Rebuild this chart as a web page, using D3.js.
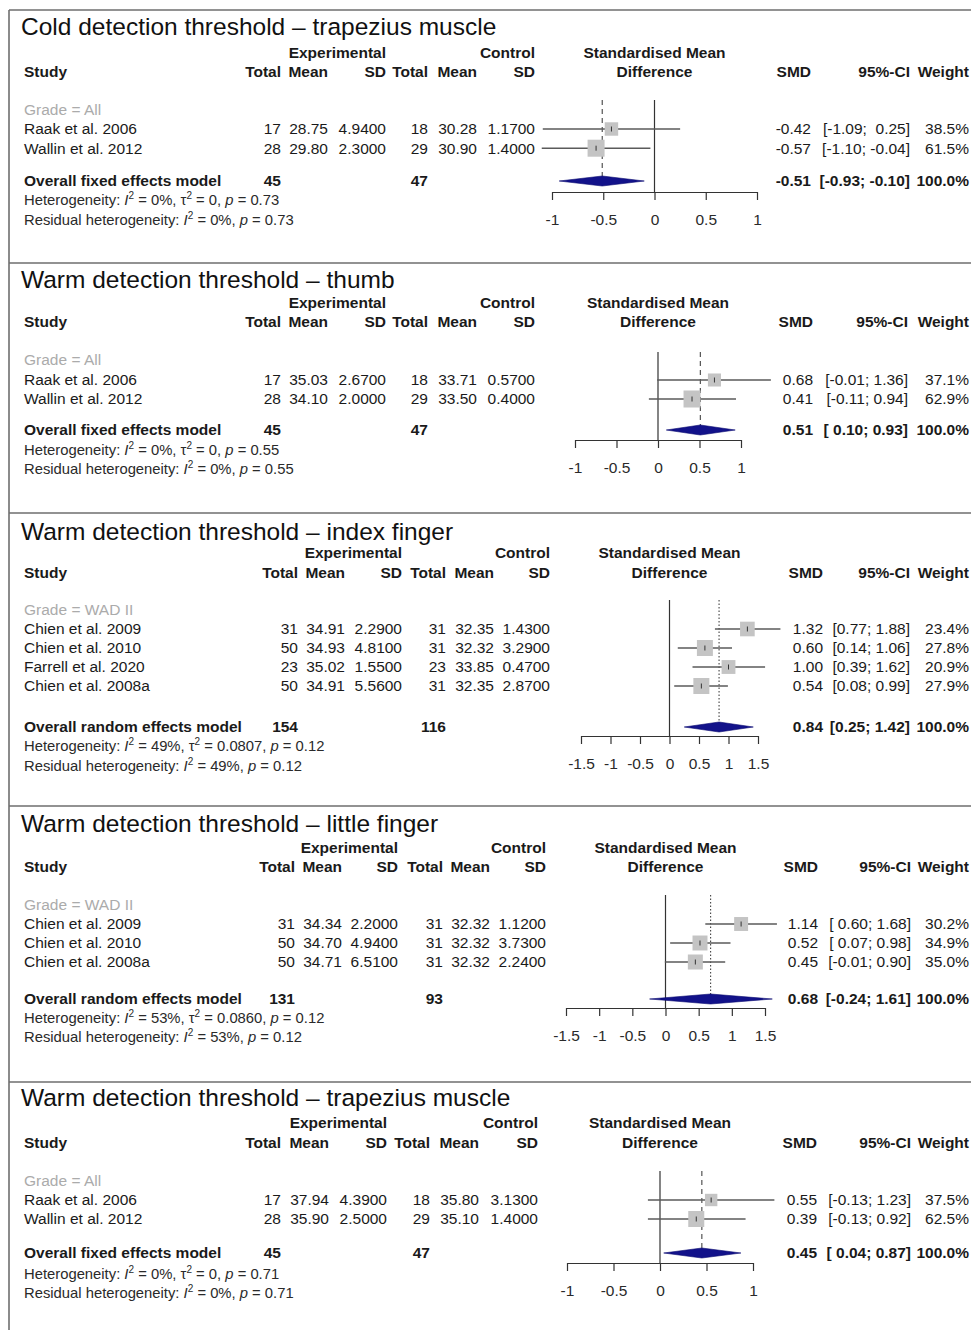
<!DOCTYPE html>
<html>
<head>
<meta charset="utf-8">
<script src="https://cdn.jsdelivr.net/npm/d3@7"></script>
<style>
body { margin: 0; background: #fff; }
svg text { font-family: "Liberation Sans", Arial, sans-serif; white-space: pre; }
</style>
</head>
<body>
<svg id="chart"></svg>
<script>
// ---- data ----
const titles = [
    "Cold detection threshold \u2013 trapezius muscle",
    "Warm detection threshold \u2013 thumb",
    "Warm detection threshold \u2013 index finger",
    "Warm detection threshold \u2013 little finger",
    "Warm detection threshold \u2013 trapezius muscle"
];
const grades = ["Grade = All", "Grade = All", "Grade = WAD II", "Grade = WAD II", "Grade = All"];
const studies = [
    ["Raak et al. 2006", "Wallin et al. 2012"],
    ["Raak et al. 2006", "Wallin et al. 2012"],
    ["Chien et al. 2009", "Chien et al. 2010", "Farrell et al. 2020", "Chien et al. 2008a"],
    ["Chien et al. 2009", "Chien et al. 2010", "Chien et al. 2008a"],
    ["Raak et al. 2006", "Wallin et al. 2012"]
];
const expTotal = [[17, 28], [17, 28], [31, 50, 23, 50], [31, 50, 50], [17, 28]];
const expMean = [[28.75, 29.80], [35.03, 34.10], [34.91, 34.93, 35.02, 34.91], [34.34, 34.70, 34.71], [37.94, 35.90]];
const expSD = [[4.94, 2.30], [2.67, 2.00], [2.29, 4.81, 1.55, 5.56], [2.20, 4.94, 6.51], [4.39, 2.50]];
const ctlTotal = [[18, 29], [18, 29], [31, 31, 23, 31], [31, 31, 31], [18, 29]];
const ctlMean = [[30.28, 30.90], [33.71, 33.50], [32.35, 32.32, 33.85, 32.35], [32.32, 32.32, 32.32], [35.80, 35.10]];
const ctlSD = [[1.17, 1.40], [0.57, 0.40], [1.43, 3.29, 0.47, 2.87], [1.12, 3.73, 2.24], [3.13, 1.40]];
const smd = [[-0.42, -0.57], [0.68, 0.41], [1.32, 0.60, 1.00, 0.54], [1.14, 0.52, 0.45], [0.55, 0.39]];
const ciLower = [[-1.09, -1.10], [-0.01, -0.11], [0.77, 0.14, 0.39, 0.08], [0.60, 0.07, -0.01], [-0.13, -0.13]];
const ciUpper = [[0.25, -0.04], [1.36, 0.94], [1.88, 1.06, 1.62, 0.99], [1.68, 0.98, 0.90], [1.23, 0.92]];
const weights = [[38.5, 61.5], [37.1, 62.9], [23.4, 27.8, 20.9, 27.9], [30.2, 34.9, 35.0], [37.5, 62.5]];
const pooledSMD = [-0.51, 0.51, 0.84, 0.68, 0.45];
const pooledLower = [-0.93, 0.10, 0.25, -0.24, 0.04];
const pooledUpper = [-0.10, 0.93, 1.42, 1.61, 0.87];
const models = ["fixed", "fixed", "random", "random", "fixed"];
const hetI2 = ["0%", "0%", "49%", "53%", "0%"];
const hetTau2 = ["0", "0", "0.0807", "0.0860", "0"];
const hetP = ["0.73", "0.55", "0.12", "0.12", "0.71"];
const axisTicks = [
    [-1, -0.5, 0, 0.5, 1],
    [-1, -0.5, 0, 0.5, 1],
    [-1.5, -1, -0.5, 0, 0.5, 1, 1.5],
    [-1.5, -1, -0.5, 0, 0.5, 1, 1.5],
    [-1, -0.5, 0, 0.5, 1]
];

// ---- layout of each panel (pixels) ----
const layout = [
    {top: 10,   title: 26,   h1: 53,   h2: 72,   grade: 110,  row0: 129,  step: 19.2, overall: 181,  het: 200,  res: 220,  axisY: 192,  zeroTop: 100,  cols: [281, 328, 386, 428, 477, 535], xRange: [552, 757], smd: 811, ci: 910, wt: 969, sqMax: 17},
    {top: 263,  title: 279,  h1: 303,  h2: 322,  grade: 360,  row0: 380,  step: 19,   overall: 430,  het: 450,  res: 469,  axisY: 440,  zeroTop: 352,  cols: [281, 328, 386, 428, 477, 535], xRange: [575, 741], smd: 813, ci: 908, wt: 969, sqMax: 17},
    {top: 513,  title: 531,  h1: 553,  h2: 573,  grade: 610,  row0: 629,  step: 19,   overall: 727,  het: 746,  res: 766,  axisY: 736,  zeroTop: 600,  cols: [298, 345, 402, 446, 494, 550], xRange: [581, 758], smd: 823, ci: 910, wt: 969, sqMax: 16},
    {top: 806,  title: 823,  h1: 848,  h2: 867,  grade: 905,  row0: 924,  step: 19,   overall: 999,  het: 1018, res: 1037, axisY: 1008, zeroTop: 895,  cols: [295, 342, 398, 443, 490, 546], xRange: [566, 765], smd: 818, ci: 911, wt: 969, sqMax: 15},
    {top: 1082, title: 1097, h1: 1123, h2: 1143, grade: 1181, row0: 1200, step: 19,   overall: 1253, het: 1274, res: 1293, axisY: 1263, zeroTop: 1171, cols: [281, 329, 387, 430, 479, 538], xRange: [567, 753], smd: 817, ci: 911, wt: 969, sqMax: 16}
];

const W = 971, H = 1330;
const FS = 15.5;

class ForestPlot {
    constructor (config, data) {
        this.config = config;
        this.data = data;
        this.init();
    }

    init() {
        let self = this;
        let c = self.config;

        self.chart = c.parent.append('g');

        self.xscale = d3.scaleLinear()
            .domain(d3.extent(self.data.ticks))
            .range(c.xRange);

        self.yscale = d3.scaleLinear()
            .domain([0, 1])
            .range([c.row0, c.row0 + c.step]);

        self.sscale = d3.scaleSqrt()
            .domain([0, d3.max(self.data.weight)])
            .range([0, c.sqMax]);

        self.xaxis = d3.axisBottom(self.xscale)
            .tickValues(self.data.ticks)
            .tickSize(8)
            .tickSizeOuter(0)
            .tickPadding(14)
            .tickFormat(d => String(d));
    }

    text(x, y, str, anchor, bold, size, fill) {
        return this.chart.append('text')
            .attr('x', x)
            .attr('y', y)
            .attr('dy', '0.35em')
            .attr('text-anchor', anchor || 'start')
            .style('font-size', (size || FS) + 'px')
            .style('font-weight', bold ? 'bold' : 'normal')
            .attr('fill', fill || '#1a1a1a')
            .text(str);
    }

    richText(y, parts) {
        let t = this.chart.append('text')
            .attr('x', 24)
            .attr('y', y)
            .attr('dy', '0.35em')
            .style('font-size', '14.8px')
            .attr('fill', '#2a2a2a');
        parts.forEach(p => {
            let s = t.append('tspan').text(p.s);
            if (p.i) s.style('font-style', 'italic');
            if (p.sup) s.attr('dy', -6).style('font-size', '10px');
            if (p.down) s.attr('dy', 6);
        });
    }

    render() {
        let self = this;
        let c = self.config;
        let d = self.data;
        let x = self.xscale;
        let rows = d3.range(d.study.length);

        // title + headers
        self.text(21, c.title, d.title, 'start', false, 24.5, '#111');
        self.text(c.cols[2], c.h1, 'Experimental', 'end', true);
        self.text(c.cols[5], c.h1, 'Control', 'end', true);
        self.text(24, c.h2, 'Study', 'start', true);
        ['Total', 'Mean', 'SD', 'Total', 'Mean', 'SD'].forEach((h, i) => self.text(c.cols[i], c.h2, h, 'end', true));
        let mid = (c.xRange[0] + c.xRange[1]) / 2;
        self.text(mid, c.h1, 'Standardised Mean', 'middle', true);
        self.text(mid, c.h2, 'Difference', 'middle', true);
        self.text(c.smd, c.h2, 'SMD', 'end', true);
        self.text(c.ci, c.h2, '95%-CI', 'end', true);
        self.text(c.wt, c.h2, 'Weight', 'end', true);

        self.text(24, c.grade, d.grade, 'start', false, FS, '#ababab');

        // CI strings padded like R meta does
        let allLo = d.lo.concat([d.pLo]).map(v => v.toFixed(2));
        let allHi = d.hi.concat([d.pHi]).map(v => v.toFixed(2));
        let wLo = d3.max(allLo, s => s.length), wHi = d3.max(allHi, s => s.length);
        let ciStr = i => '[' + allLo[i].padStart(wLo) + '; ' + allHi[i].padStart(wHi) + ']';

        rows.forEach(i => {
            let y = self.yscale(i);
            self.text(24, y, d.study[i]);
            self.text(c.cols[0], y, String(d.eN[i]), 'end');
            self.text(c.cols[1], y, d.eM[i].toFixed(2), 'end');
            self.text(c.cols[2], y, d.eSD[i].toFixed(4), 'end');
            self.text(c.cols[3], y, String(d.cN[i]), 'end');
            self.text(c.cols[4], y, d.cM[i].toFixed(2), 'end');
            self.text(c.cols[5], y, d.cSD[i].toFixed(4), 'end');
            self.text(c.smd, y, d.smd[i].toFixed(2), 'end');
            self.text(c.ci, y, ciStr(i), 'end');
            self.text(c.wt, y, d.weight[i].toFixed(1) + '%', 'end');
        });

        let n = rows.length;
        let label = d.model === 'fixed' ? 'Overall fixed effects model' : 'Overall random effects model';
        self.text(24, c.overall, label, 'start', true);
        self.text(c.cols[0], c.overall, String(d3.sum(d.eN)), 'end', true);
        self.text(c.cols[3], c.overall, String(d3.sum(d.cN)), 'end', true);
        self.text(c.smd, c.overall, d.pooled.toFixed(2), 'end', true);
        self.text(c.ci, c.overall, ciStr(n), 'end', true);
        self.text(c.wt, c.overall, '100.0%', 'end', true);

        self.richText(c.het, [
            {s: 'Heterogeneity: '}, {s: 'I', i: true}, {s: '2', sup: true},
            {s: ' = ' + d.i2 + ', ', down: true}, {s: '\u03c4'}, {s: '2', sup: true},
            {s: ' = ' + d.tau2 + ', ', down: true}, {s: 'p', i: true}, {s: ' = ' + d.p}
        ]);
        self.richText(c.res, [
            {s: 'Residual heterogeneity: '}, {s: 'I', i: true}, {s: '2', sup: true},
            {s: ' = ' + d.i2 + ', ', down: true}, {s: 'p', i: true}, {s: ' = ' + d.p}
        ]);

        // reference lines
        self.chart.append('line')
            .attr('x1', x(0)).attr('x2', x(0))
            .attr('y1', c.zeroTop).attr('y2', c.axisY)
            .attr('stroke', '#333').attr('stroke-width', 1.2);

        self.chart.append('line')
            .attr('x1', x(d.pooled)).attr('x2', x(d.pooled))
            .attr('y1', c.zeroTop).attr('y2', c.overall - 5)
            .attr('stroke', '#444').attr('stroke-width', 1.1)
            .attr('stroke-dasharray', d.model === 'fixed' ? '5,4' : '1.5,2');

        // study CIs and squares
        self.chart.selectAll('line.ci')
            .data(rows)
            .join('line')
            .attr('class', 'ci')
            .attr('x1', i => x(d.lo[i]))
            .attr('x2', i => x(d.hi[i]))
            .attr('y1', i => self.yscale(i))
            .attr('y2', i => self.yscale(i))
            .attr('stroke', '#5a5a5a')
            .attr('stroke-width', 1.4);

        self.chart.selectAll('rect.sq')
            .data(rows)
            .join('rect')
            .attr('class', 'sq')
            .attr('x', i => x(d.smd[i]) - self.sscale(d.weight[i]) / 2)
            .attr('y', i => self.yscale(i) - self.sscale(d.weight[i]) / 2)
            .attr('width', i => self.sscale(d.weight[i]))
            .attr('height', i => self.sscale(d.weight[i]))
            .attr('fill', '#c4c4c4');

        self.chart.selectAll('line.pt')
            .data(rows)
            .join('line')
            .attr('class', 'pt')
            .attr('x1', i => x(d.smd[i]))
            .attr('x2', i => x(d.smd[i]))
            .attr('y1', i => self.yscale(i) - 2.5)
            .attr('y2', i => self.yscale(i) + 2.5)
            .attr('stroke', '#333')
            .attr('stroke-width', 1);

        // pooled diamond
        self.chart.append('polygon')
            .attr('points', [
                [x(d.pLo), c.overall], [x(d.pooled), c.overall - 5],
                [x(d.pHi), c.overall], [x(d.pooled), c.overall + 5]
            ].join(' '))
            .attr('fill', '#12128a')
            .attr('stroke', '#0a0a70')
            .attr('stroke-width', 0.6);

        // axis
        let ag = self.chart.append('g')
            .attr('transform', `translate(0, ${c.axisY})`)
            .call(self.xaxis);
        ag.select('.domain').attr('stroke', '#333').attr('stroke-width', 1.2);
        ag.selectAll('.tick line').attr('stroke', '#333').attr('stroke-width', 1.2);
        ag.selectAll('.tick text')
            .style('font-size', FS + 'px')
            .style('font-family', '"Liberation Sans", Arial, sans-serif')
            .attr('fill', '#2a2a2a');
    }
}

const svg = d3.select('#chart')
    .attr('width', W)
    .attr('height', H);

svg.append('rect').attr('width', W).attr('height', H).attr('fill', '#fff');

// frame: left edge plus the line above each panel
svg.append('line')
    .attr('x1', 9).attr('x2', 9).attr('y1', 10).attr('y2', H)
    .attr('stroke', '#6e6e6e').attr('stroke-width', 1.6);
layout.forEach(l => {
    svg.append('line')
        .attr('x1', 9).attr('x2', W).attr('y1', l.top).attr('y2', l.top)
        .attr('stroke', '#6e6e6e').attr('stroke-width', 1.6);
});

titles.forEach((t, k) => {
    let data = {
        title: t, grade: grades[k], study: studies[k],
        eN: expTotal[k], eM: expMean[k], eSD: expSD[k],
        cN: ctlTotal[k], cM: ctlMean[k], cSD: ctlSD[k],
        smd: smd[k], lo: ciLower[k], hi: ciUpper[k], weight: weights[k],
        pooled: pooledSMD[k], pLo: pooledLower[k], pHi: pooledUpper[k],
        model: models[k], i2: hetI2[k], tau2: hetTau2[k], p: hetP[k],
        ticks: axisTicks[k]
    };
    let plot = new ForestPlot(Object.assign({parent: svg}, layout[k]), data);
    plot.render();
});
</script>
</body>
</html>
